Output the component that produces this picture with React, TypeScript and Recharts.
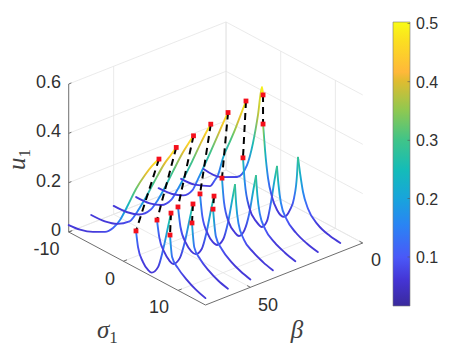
import React from "react";
import { ComposedChart, Line, XAxis, YAxis, ReferenceArea } from "recharts";

type P = number[];
const betaValues = [70, 60, 50, 40, 30, 20, 10];

// [sigma, u]; branch A rises to the upper fold, B runs from the lower jump point to the second peak, C falls to sigma = 15
const a70: P[] = [[-10,.028],[-7.93,.034],[-5.56,.053],[-3.36,.079],[-1.9,.112],[-.62,.16],[.84,.238],[2.3,.32],[3.95,.396],[5.23,.448],[6.5,.491]];
const a60: P[] = [[-10,.033],[-7.5,.037],[-5.2,.054],[-3,.09],[-1.6,.145],[-.45,.2],[1.45,.3],[3.4,.4],[4.6,.45],[5.55,.491]];
const a50: P[] = [[-10,.034],[-7.5,.038],[-5.3,.055],[-3.2,.1],[-2,.15],[-1,.2],[.8,.3],[2.65,.4],[3.7,.45],[4.6,.491]];
const a40: P[] = [[-10,.034],[-7.5,.038],[-5.4,.056],[-3.55,.1],[-2.5,.15],[-1.55,.2],[.25,.3],[1.95,.4],[2.85,.45],[3.65,.491]];
const a30: P[] = [[-10,.034],[-7.5,.04],[-5.5,.058],[-3.8,.1],[-2.9,.15],[-2.05,.2],[-.4,.3],[1.2,.4],[2,.45],[2.7,.491]];
const a20: P[] = [[-10,.036],[-7.5,.042],[-4.72,.069],[-3.8,.105],[-3.25,.131],[-2.34,.211],[-.95,.3],[-.15,.351],[.55,.4],[1.87,.492]];
const a10: P[] = [[-10,.04],[-6.8,.045],[-3.88,.08],[-2.05,.15],[-.95,.253],[-.04,.377],[.69,.499],[.88,.469]];

const b70: P[] = [[2.3,.15],[2.67,.089],[3.58,.039],[4.5,.018],[5.17,.015],[6.33,.051],[7.24,.131],[8.15,.235],[8.7,.298]];
const b60: P[] = [[2.03,.155],[2.45,.09],[3.4,.04],[4.3,.017],[5,.012],[6.2,.05],[7.15,.13],[8.05,.235],[8.61,.298]];
const b50: P[] = [[1.76,.169],[2.2,.095],[3.2,.04],[4.2,.018],[5,.016],[6.1,.05],[7,.13],[7.85,.235],[8.35,.291]];
const b40: P[] = [[1.68,.185],[2.1,.1],[3.1,.04],[4,.018],[4.8,.015],[5.9,.05],[6.8,.13],[7.6,.235],[8.07,.297]];
const b30: P[] = [[1.59,.212],[1.95,.12],[2.9,.045],[3.9,.02],[4.7,.014],[5.7,.05],[6.6,.13],[7.35,.235],[7.8,.294]];
const b20: P[] = [[1.32,.255],[1.65,.16],[2.5,.065],[3.8,.025],[4.79,.016],[5.7,.05],[6.4,.13],[7.1,.235],[7.53,.293]];
const b10: P[] = [[.88,.351],[1.24,.25],[1.79,.143],[2.52,.075],[3.44,.033],[4.72,.02],[5.8,.061],[6.55,.118],[7.09,.218],[7.27,.29]];

const c70: P[] = [[8.52,.207],[8.9,.122],[9.97,.09],[11.6,.062],[13.2,.042],[15,.028]];
const c60: P[] = [[8.43,.219],[8.85,.125],[9.9,.09],[11.5,.062],[13.2,.042],[15,.03]];
const c50: P[] = [[8.17,.236],[8.7,.13],[9.8,.092],[11.5,.062],[13.2,.044],[15,.032]];
const c40: P[] = [[8.07,.297],[8.3,.22],[8.7,.15],[9.7,.095],[11.4,.064],[13.2,.045],[15,.033]];
const c30: P[] = [[7.8,.294],[8.05,.22],[8.5,.15],[9.5,.098],[11.2,.065],[13.1,.046],[15,.034]];
const c20: P[] = [[7.53,.293],[7.8,.225],[8.25,.155],[9.3,.1],[11,.066],[13,.046],[15,.035]];
const c10: P[] = [[7.27,.29],[7.64,.233],[8.19,.162],[9.1,.105],[10.93,.061],[13.13,.042],[15,.036]];

const branchA = [a70, a60, a50, a40, a30, a20, a10];
const branchB = [b70, b60, b50, b40, b30, b20, b10];
const branchC = [c70, c60, c50, c40, c30, c20, c10];

// jumps: [beta, sigma from, u from, sigma to, u to]
const jumps: P[] = [
  [70,6.5,.491,2.3,.15],[60,5.55,.491,2.03,.155],[50,4.6,.491,1.76,.169],[40,3.65,.491,1.68,.185],
  [30,2.7,.491,1.59,.212],[20,1.87,.492,1.32,.255],[10,.88,.469,.88,.351],
  [70,8.7,.298,8.52,.207],[60,8.61,.298,8.43,.219],[50,8.35,.291,8.17,.236],
];

const uTicks = [0, .2, .4, .6];
const sigmaGrid = [-10, 0, 10];
const betaGrid = [0, 50];
const colorTicks = [.1, .2, .3, .4, .5];
const uMin = .016, uMax = .5;

const cmap: [number, string][] = [
  [0,"#3a2a9c"],[.09,"#4434d4"],[.17,"#4a58f8"],[.285,"#2a84f4"],[.377,"#18a4dc"],[.48,"#14bcb8"],
  [.585,"#40c488"],[.69,"#90c850"],[.792,"#e0bc30"],[.824,"#ffb83a"],[.937,"#fbe020"],[1,"#f9fb15"],
];
const hex = (s: string) => [1,3,5].map(i => parseInt(s.slice(i,i+2),16));
const colorOf = (u: number) => {
  const t = Math.min(1, Math.max(.1, (u-uMin)/(uMax-uMin)));
  for (let i = 1; i < cmap.length; i++) {
    if (t <= cmap[i][0]) {
      const f = (t-cmap[i-1][0])/(cmap[i][0]-cmap[i-1][0]);
      const a = hex(cmap[i-1][1]), b = hex(cmap[i][1]);
      return `rgb(${a.map((v,k)=>Math.round(v+(b[k]-v)*f)).join(",")})`;
    }
  }
  return cmap[cmap.length-1][1];
};

// the fixed 3-D view of the MATLAB axes
const px = (s: number, b: number) => 226 + 5.47*(s+10) - 2.247*b;
const py = (s: number, b: number, u: number) => 170 + 2.92*(s+10) + .886*b - 246.7*u;
const pt = (s: number, b: number, u: number) => ({ x: px(s,b), y: py(s,b,u) });

const sMin = -10, sMax = 15, bMax = 70, uTop = .6;
const GRID = "#e4e4e4", AX = "#6e6e6e";

const seg = (k: string, a: any, b: any, color: string, w = .8) => (
  <Line key={k} data={[a,b]} dataKey="y" stroke={color} strokeWidth={w} dot={false} activeDot={false} isAnimationActive={false} legendType="none" />
);

const Marker = (props: any) => {
  const { cx, cy, index } = props;
  return <rect key={index} x={cx-2.4} y={cy-2.4} width={4.8} height={4.8} fill="#f5101c" stroke="none" />;
};

const TXT = { fontFamily: "'Liberation Sans', Arial, sans-serif", fontSize: 18, fill: "#303030" };
const CTXT = { ...TXT, fontSize: 16 };

export default function App() {
  const lines: React.ReactNode[] = [];
  // walls and floor
  uTicks.forEach(u => {
    lines.push(seg(`wl${u}`, pt(sMin,bMax,u), pt(sMin,0,u), GRID));
    lines.push(seg(`wr${u}`, pt(sMin,0,u), pt(sMax,0,u), GRID));
  });
  betaGrid.forEach(b => {
    lines.push(seg(`vl${b}`, pt(sMin,b,0), pt(sMin,b,uTop), GRID));
    lines.push(seg(`fb${b}`, pt(sMin,b,0), pt(sMax,b,0), GRID));
  });
  sigmaGrid.forEach(s => {
    lines.push(seg(`vr${s}`, pt(s,0,0), pt(s,0,uTop), GRID));
    lines.push(seg(`fs${s}`, pt(s,0,0), pt(s,bMax,0), GRID));
  });
  // outer axes
  lines.push(seg("az", pt(sMin,bMax,0), pt(sMin,bMax,uTop), AX, 1));
  lines.push(seg("as", pt(sMin,bMax,0), pt(sMax,bMax,0), AX, 1));
  lines.push(seg("ab", pt(sMax,bMax,0), pt(sMax,0,0), AX, 1));
  uTicks.forEach(u => lines.push(seg(`tz${u}`, pt(sMin,bMax,u), pt(sMin,bMax-1.2,u), AX, 1)));
  sigmaGrid.forEach(s => lines.push(seg(`ts${s}`, pt(s,bMax,0), pt(s,bMax-1.6,0), AX, 1)));
  betaGrid.forEach(b => lines.push(seg(`tb${b}`, pt(sMax,b,0), pt(sMax-.6,b,0), AX, 1)));

  const defs: React.ReactNode[] = [];
  const curves: React.ReactNode[] = [];
  [branchA, branchB, branchC].forEach((group, g) => {
    group.forEach((branch, i) => {
      const beta = betaValues[i];
      const id = `g${g}_${i}`;
      const x0 = px(branch[0][0], beta), x1 = px(branch[branch.length-1][0], beta);
      defs.push(
        <linearGradient key={id} id={id} gradientUnits="userSpaceOnUse" x1={x0} x2={x1} y1={0} y2={0}>
          {branch.map(([s,u], k) => (
            <stop key={k} offset={(px(s,beta)-x0)/(x1-x0)} stopColor={colorOf(u)} />
          ))}
        </linearGradient>
      );
      curves.push(
        <Line key={id} data={branch.map(([s,u]) => pt(s,beta,u))} dataKey="y" type="monotoneX"
          stroke={`url(#${id})`} strokeWidth={1.9} strokeLinecap="round" dot={false} activeDot={false} isAnimationActive={false} />
      );
    });
  });

  const dotData = jumps.flatMap(([b,s0,u0,s1,u1]) => [pt(s0,b,u0), pt(s1,b,u1)]);

  return (
    <div style={{ position: "absolute", left: 0, top: 0, width: 451, height: 357 }}>
      <ComposedChart width={451} height={357} data={[{x:0,y:0}]} margin={{ top: 0, right: 0, bottom: 0, left: 0 }}>
        <defs>
          <linearGradient id="cbar" x1="0" y1="1" x2="0" y2="0">
            {cmap.map(([t,c]) => <stop key={t} offset={t} stopColor={c} />)}
          </linearGradient>
          {defs}
        </defs>
        <XAxis dataKey="x" type="number" domain={[0,451]} hide allowDataOverflow />
        <YAxis dataKey="y" type="number" domain={[0,357]} reversed hide allowDataOverflow />
        {lines}
        <Line data={dotData} dataKey="y" stroke="none" dot={Marker} activeDot={false} isAnimationActive={false} />
        {curves}
        {jumps.map(([b,s0,u0,s1,u1], i) => (
          <Line key={`j${i}`} data={[pt(s0,b,u0), pt(s1,b,u1)]} dataKey="y" stroke="#000" strokeWidth={2}
            strokeDasharray="7 5" dot={false} activeDot={false} isAnimationActive={false} />
        ))}
        <ReferenceArea x1={393} x2={410} y1={22} y2={306} fill="url(#cbar)" fillOpacity={1} stroke="#7a7a7a" strokeWidth={.6} />
        {colorTicks.map(v => {
          const yy = 257 - (v-.1)*584;
          return <ReferenceArea key={v} x1={407.5} x2={410} y1={yy-.3} y2={yy+.3} fill="#555" fillOpacity={1} stroke="none" />;
        })}
        {uTicks.map(u => (
          <text key={u} x={61} y={py(sMin,bMax,u)+4} textAnchor="end" {...TXT}>{String(u)}</text>
        ))}
        <text x={59.5} y={255} textAnchor="end" {...TXT}>-10</text>
        <text x={110} y={285} textAnchor="middle" {...TXT}>0</text>
        <text x={159} y={313} textAnchor="middle" {...TXT}>10</text>
        <text x={376} y={266} textAnchor="middle" {...TXT}>0</text>
        <text x={268} y={311} textAnchor="middle" {...TXT}>50</text>
        {colorTicks.map(v => (
          <text key={v} x={416} y={257-(v-.1)*584+6} {...CTXT}>{v.toFixed(1)}</text>
        ))}
        <g fill="#404040" fontFamily="'Liberation Serif', serif">
          <text transform="translate(25,170) rotate(-90)" fontStyle="italic" fontSize={25}>u
            <tspan fontStyle="normal" fontSize={17} dy={5}>1</tspan>
          </text>
          <text x={97} y={338} fontStyle="italic" fontSize={25}>σ
            <tspan fontStyle="normal" fontSize={17} dy={5}>1</tspan>
          </text>
          <text x={297} y={338} textAnchor="middle" fontStyle="italic" fontSize={25}>β</text>
        </g>
      </ComposedChart>
    </div>
  );
}
